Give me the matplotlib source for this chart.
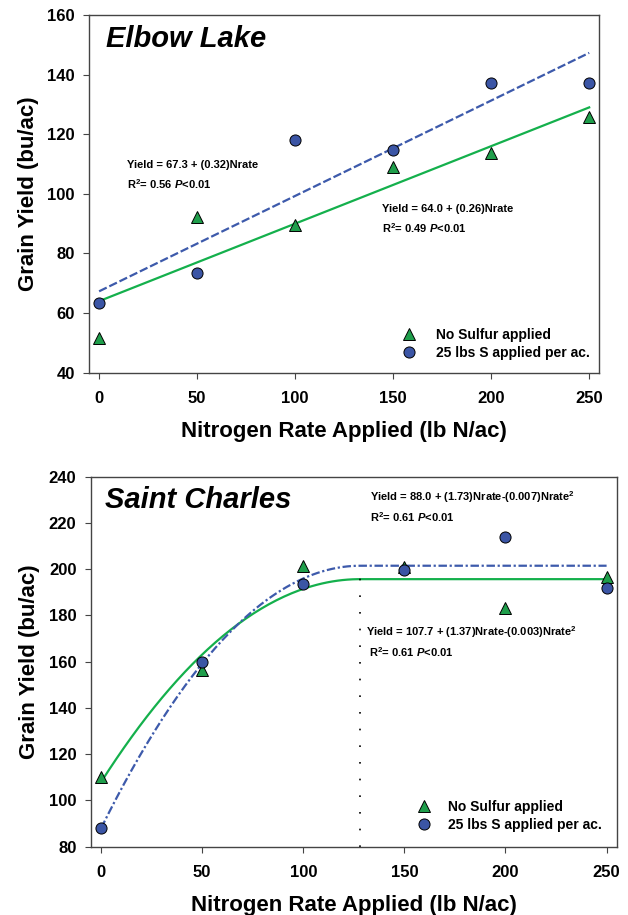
import numpy as np
import matplotlib
matplotlib.use('Agg')
import matplotlib.pyplot as plt

plt.rcParams['font.family'] = ['Liberation Sans', 'DejaVu Sans']
plt.rcParams['font.weight'] = 'bold'
plt.rcParams['mathtext.fontset'] = 'custom'
plt.rcParams['mathtext.rm'] = 'Liberation Sans:bold'
plt.rcParams['mathtext.it'] = 'Liberation Sans:italic:bold'
plt.rcParams['mathtext.bf'] = 'Liberation Sans:bold'

# N rates (lb N/ac)
n_rate = [0, 50, 100, 150, 200, 250]

# Elbow Lake yields (bu/ac)
elbow_no_s = [51.5, 92.3, 89.6, 109.1, 113.7, 125.9]
elbow_s25 = [63.5, 73.3, 118.1, 114.8, 137.1, 137.3]
elbow_fit_no_s = (64.0, 0.26)
elbow_fit_s25 = (67.3, 0.32)

# Saint Charles yields (bu/ac)
stc_no_s = [110.1, 156.3, 201.5, 201.0, 183.1, 196.6]
stc_s25 = [87.9, 159.9, 193.5, 199.7, 213.9, 191.7]
# quadratic-plateau curves: a + b*N + c*N^2 up to the join point
stc_fit_no_s = (108.0, 1.37, -0.00535)
stc_fit_s25 = (88.0, 1.77, -0.0069)

green_pt = '#1f9e4b'
blue_pt = '#3b55a5'
green_ln = '#14b04c'
blue_ln = '#3d5aab'


def quad_plateau(x, a, b, c):
    x0 = -b / (2 * c)
    xc = np.minimum(x, x0)
    return a + b * xc + c * xc ** 2


def style_axes(ax, ylim, yticks):
    ax.set_xlim(-5, 255)
    ax.set_ylim(*ylim)
    ax.set_xticks(n_rate)
    ax.set_yticks(yticks)
    for s in ax.spines.values():
        s.set_color('#444444')
        s.set_linewidth(1.0)
    ax.tick_params(axis='y', direction='out', length=4.5, width=0.8,
                   color='#444444', labelsize=12, pad=6)
    ax.tick_params(axis='x', direction='out', length=4, width=0.8,
                   color='#444444', labelsize=12, pad=9)
    for lab in ax.get_xticklabels() + ax.get_yticklabels():
        lab.set_fontweight('bold')
    ax.set_xlabel('Nitrogen Rate Applied (lb N/ac)', fontsize=16,
                  fontweight='bold', labelpad=11)
    ax.set_ylabel('Grain Yield (bu/ac)', fontsize=16, fontweight='bold',
                  labelpad=6)


def add_points(ax, no_s, s25):
    ax.plot(n_rate, no_s, '^', ms=8, mfc=green_pt, mec='black', mew=0.7,
            ls='none', label='No Sulfur applied', zorder=5)
    ax.plot(n_rate, s25, 'o', ms=8, mfc=blue_pt, mec='black', mew=0.7,
            ls='none', label='25 lbs S applied per ac.', zorder=5)


r2 = r'R$^{\mathrm{2}}$= {} $\mathit{{P}}$<0.01'

fig = plt.figure(figsize=(6.28, 9.15), dpi=100)

# ---- Elbow Lake ----
ax1 = fig.add_axes([0.1422, 0.5927, 0.8116, 0.3909])
xx = np.linspace(0, 250, 200)
ax1.plot(xx, elbow_fit_no_s[0] + elbow_fit_no_s[1] * xx, '-', color=green_ln, lw=1.6)
ax1.plot(xx, elbow_fit_s25[0] + elbow_fit_s25[1] * xx, color=blue_ln, lw=1.6,
         dashes=(3.8, 1.3))
add_points(ax1, elbow_no_s, elbow_s25)
style_axes(ax1, (40, 160), range(40, 161, 20))
ax1.text(3.6, 152, 'Elbow Lake', fontsize=21, fontweight='bold',
         fontstyle='italic', ha='left', va='center')
ax1.text(14.1, 109.7, 'Yield = 67.3 + (0.32)Nrate', fontsize=8, ha='left', va='center')
ax1.text(14.1, 103.3, r'R$^{\mathrm{2}}$= 0.56 $\mathit{P}$<0.01', fontsize=8,
         ha='left', va='center')
ax1.text(144.2, 94.8, 'Yield = 64.0 + (0.26)Nrate', fontsize=8, ha='left', va='center')
ax1.text(144.2, 88.4, r'R$^{\mathrm{2}}$= 0.49 $\mathit{P}$<0.01', fontsize=8,
         ha='left', va='center')
ax1.legend(loc='lower right', bbox_to_anchor=(0.983, 0.035), frameon=False,
           fontsize=10, handlelength=1, handletextpad=1.5, labelspacing=0.3,
           borderpad=0, borderaxespad=0)

# ---- Saint Charles ----
ax2 = fig.add_axes([0.1449, 0.0746, 0.8371, 0.4044])
ax2.plot(xx, quad_plateau(xx, *stc_fit_no_s), '-', color=green_ln, lw=1.6)
ax2.plot(xx, quad_plateau(xx, *stc_fit_s25), color=blue_ln, lw=1.6,
         dashes=(3.8, 1.2, 1.0, 1.2))
a, b, c = stc_fit_s25
x_join = -b / (2 * c)
ax2.plot([x_join, x_join], [80, quad_plateau(x_join, a, b, c)], color='black',
         lw=1.2, dashes=(1, 9))
add_points(ax2, stc_no_s, stc_s25)
style_axes(ax2, (80, 240), range(80, 241, 20))
ax2.text(1.7, 229.9, 'Saint Charles', fontsize=21, fontweight='bold',
         fontstyle='italic', ha='left', va='center')
ax2.text(133.2, 231.35, r'Yield = 88.0 + (1.73)Nrate-(0.007)Nrate$^{\mathrm{2}}$',
         fontsize=8, ha='left', va='center')
ax2.text(133.2, 222.7, r'R$^{\mathrm{2}}$= 0.61 $\mathit{P}$<0.01', fontsize=8,
         ha='left', va='center')
ax2.text(131.2, 173.0, r'Yield = 107.7 + (1.37)Nrate-(0.003)Nrate$^{\mathrm{2}}$',
         fontsize=8, ha='left', va='center')
ax2.text(132.5, 164.3, r'R$^{\mathrm{2}}$= 0.61 $\mathit{P}$<0.01', fontsize=8,
         ha='left', va='center')
ax2.legend(loc='lower right', bbox_to_anchor=(0.971, 0.04), frameon=False,
           fontsize=10, handlelength=1, handletextpad=1.2, labelspacing=0.3,
           borderpad=0, borderaxespad=0)

fig.savefig('out.png', dpi=100)
